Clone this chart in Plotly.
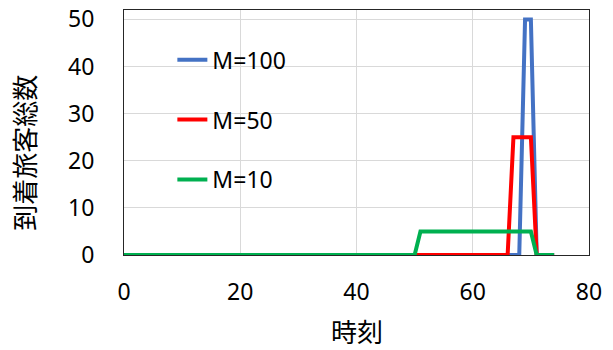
import plotly.graph_objects as go

# Arrival counts over time (breakpoints of each piecewise-linear series)
series_names = ["M=100", "M=50", "M=10"]
times_m100 = [0, 68, 69, 70, 71, 74]
arrivals_m100 = [0, 0, 50, 50, 0, 0]
times_m50 = [0, 66, 67, 70, 71, 74]
arrivals_m50 = [0, 0, 25, 25, 0, 0]
times_m10 = [0, 50, 51, 70, 71, 74]
arrivals_m10 = [0, 0, 5, 5, 0, 0]
series_colors = ["#4472C4", "#FF0000", "#00B050"]

x_ticks = [0, 20, 40, 60, 80]
y_ticks = [0, 10, 20, 30, 40, 50]

FONT = "Noto Sans, Noto Sans CJK JP, sans-serif"

fig = go.Figure()
for i, (name, xs, ys) in enumerate(zip(
        series_names,
        [times_m100, times_m50, times_m10],
        [arrivals_m100, arrivals_m50, arrivals_m10])):
    fig.add_trace(go.Scatter(
        x=xs, y=ys, mode="lines", name=name,
        legendgroup=name,
        line=dict(color=series_colors[i], width=4),
    ))

fig.update_layout(
    width=613, height=350,
    margin=dict(l=124, r=24, t=10, b=95),
    paper_bgcolor="white", plot_bgcolor="white",
    font=dict(family=FONT, size=23, color="#000000"),
    showlegend=True,
    legend=dict(
        x=0.104, y=0.885, xanchor="left", yanchor="top",
        bgcolor="rgba(0,0,0,0)",
        font=dict(size=23),
        tracegroupgap=27,
        itemwidth=30,
    ),
    xaxis=dict(
        range=[0, 80], tickvals=x_ticks,
        showgrid=True, gridcolor="#D9D9D9", gridwidth=1,
        showline=True, linecolor="#262626", linewidth=1, mirror=True,
        zeroline=False, ticks="", ticklen=0,
        ticklabelstandoff=16,
        tickfont=dict(size=23),
        automargin=False,
    ),
    yaxis=dict(
        range=[0, 52], tickvals=y_ticks,
        showgrid=True, gridcolor="#D9D9D9", gridwidth=1,
        showline=True, linecolor="#262626", linewidth=1, mirror=True,
        zeroline=False, ticks="", ticklen=0,
        ticklabelstandoff=24,
        tickfont=dict(size=23),
        automargin=False,
    ),
    annotations=[
        dict(
            text="時刻",
            xref="paper", yref="paper", x=0.5, y=-0.316,
            xanchor="center", yanchor="middle", showarrow=False,
            font=dict(size=26, family=FONT),
        ),
        dict(
            text="到着旅客総数", textangle=-90,
            xref="paper", yref="paper", x=-0.213, y=0.417,
            xanchor="center", yanchor="middle", showarrow=False,
            font=dict(size=26, family=FONT),
        ),
    ],
)

fig.write_html("out.html")
